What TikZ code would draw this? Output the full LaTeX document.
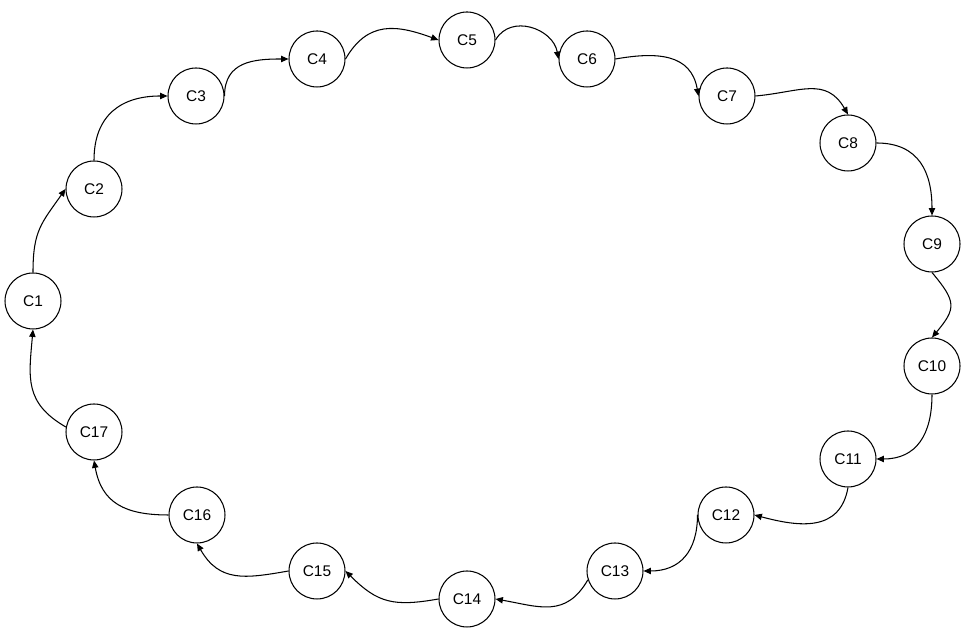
\documentclass[tikz,border=0pt]{standalone}
\usepackage{fontspec}
\setmainfont{Liberation Sans}
\usetikzlibrary{arrows.meta}
\tikzset{
  every picture/.style={line width=0.6pt},
  cnode/.style={draw, circle, minimum size=1.12cm, inner sep=0pt, font=\fontsize{8.8}{10}\selectfont},
  arrow/.style={-{Triangle[length=4.2pt, width=3.6pt]}, looseness=1.2},
}
\begin{document}
\begin{tikzpicture}[x=0.02cm, y=0.02cm]
  \useasboundingbox (0,0) rectangle (965,634);
  \node[cnode] (c1) at (33,333) {C1};
  \node[cnode] (c2) at (94,445) {C2};
  \node[cnode] (c3) at (196,538) {C3};
  \node[cnode] (c4) at (317,575) {C4};
  \node[cnode] (c5) at (467,594) {C5};
  \node[cnode] (c6) at (587,575) {C6};
  \node[cnode] (c7) at (727,538) {C7};
  \node[cnode] (c8) at (848,491) {C8};
  \node[cnode] (c9) at (932,390) {C9};
  \node[cnode] (c10) at (932,268) {C10};
  \node[cnode] (c11) at (848,175) {C11};
  \node[cnode] (c12) at (726,119) {C12};
  \node[cnode] (c13) at (615,63) {C13};
  \node[cnode] (c14) at (467,35) {C14};
  \node[cnode] (c15) at (317,63) {C15};
  \node[cnode] (c16) at (197,119) {C16};
  \node[cnode] (c17) at (94,202) {C17};
  \draw[arrow] (c1.north) to[out=90, in=235] (c2.west);
  \draw[arrow] (c2.north) to[out=90, in=180] (c3.west);
  \draw[arrow] (c3.east) to[out=90, in=180] (c4.west);
  \draw[arrow] (c4.east) to[out=60, in=160] (c5.west);
  \draw[arrow] (c5.east) to[out=60, in=100] (c6.west);
  \draw[arrow] (c6.east) to[out=10, in=100] (c7.west);
  \draw[arrow] (c7.east) to[out=5, in=120] (c8.north);
  \draw[arrow] (c8.east) to[out=0, in=90] (c9.north);
  \draw[arrow, looseness=1.5] (c9.south) to[out=-50, in=50] (c10.north);
  \draw[arrow] (c10.south) to[out=-90, in=0] (c11.east);
  \draw[arrow] (c11.south) to[out=-100, in=-15] (c12.east);
  \draw[arrow] (c12.west) to[out=-90, in=0] (c13.east);
  \draw[arrow] (c13.198) to[out=-120, in=-10] (c14.east);
  \draw[arrow] (c14.west) to[out=190, in=-45] (c15.east);
  \draw[arrow] (c15.west) to[out=190, in=-60] (c16.south);
  \draw[arrow] (c16.west) to[out=180, in=-80] (c17.south);
  \draw[arrow] (c17.170) to[out=150, in=-95] (c1.south);
\end{tikzpicture}
\end{document}
